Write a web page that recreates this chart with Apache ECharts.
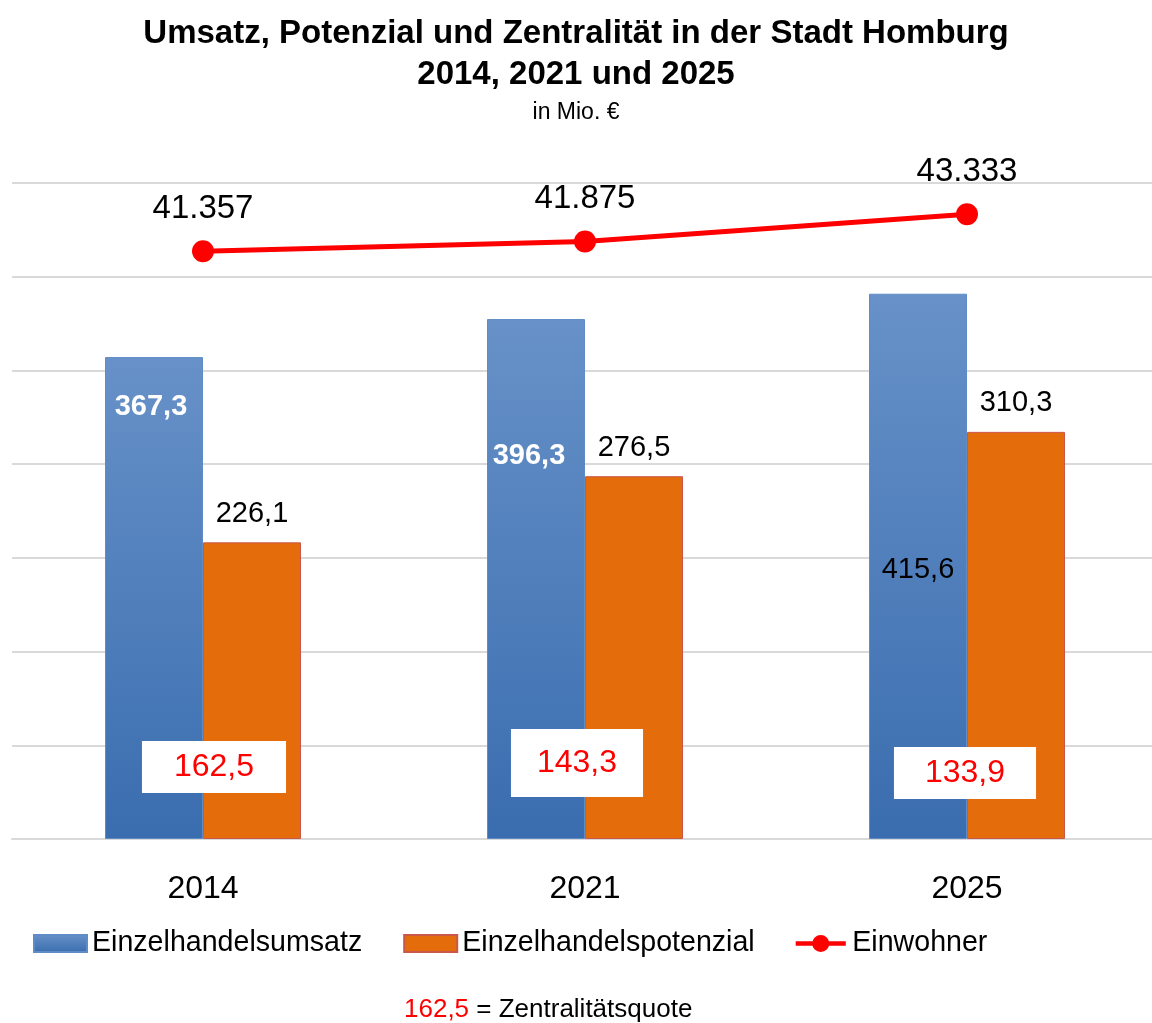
<!DOCTYPE html>
<html><head><meta charset="utf-8">
<script src="https://cdn.jsdelivr.net/npm/echarts@6/dist/echarts.min.js"></script>
<style>html,body{margin:0;padding:0;background:#fff}#c{width:1152px;height:1023px}</style>
</head><body><div id="c"></div>
<script>
// ---- data ----
const categories = ['2014', '2021', '2025'];
const umsatz = [367.3, 396.3, 415.6];        // Einzelhandelsumsatz (Mio. €)
const potenzial = [226.1, 276.5, 310.3];     // Einzelhandelspotenzial (Mio. €)
const einwohner = [41357, 41875, 43333];     // Einwohner
const zentralitaet = [162.5, 143.3, 133.9];  // Zentralitätsquote

const FONT = 'Liberation Sans';
const fmt1 = v => v.toFixed(1).replace('.', ',');
const fmtInt = v => String(v).replace(/\B(?=(\d{3})+(?!\d))/g, '.');

// label placement styles for the Umsatz bars (per bar)
const umsatzLabelStyle = [
  { distance: 35, offset: [-3, 0], color: '#ffffff', fontWeight: 'bold' },
  { distance: 122, offset: [-7, 0], color: '#ffffff', fontWeight: 'bold' },
  { distance: 262, offset: [0, 0], color: '#000000', fontWeight: 'normal' }
];
// layout of the white Zentralitätsquote boxes (per category)
const quoteLayout = [
  { dx: 11, dy: 72, pad: [10, 32] },
  { dx: -8, dy: 76, pad: [18, 26] },
  { dx: -2, dy: 66, pad: [10, 31] }
];
// legend icon for the line series: thick line with a circle marker
const lineIcon = 'path://M0,6 H56 V11 H0 Z M18.5,8.5 A9.5,9.5 0 1,1 37.5,8.5 A9.5,9.5 0 1,1 18.5,8.5 Z';

const chart = echarts.init(document.getElementById('c'), null, { renderer: 'canvas' });

const option = {
  backgroundColor: '#ffffff',
  animation: false,
  textStyle: { fontFamily: FONT },
  title: [
    {
      text: 'Umsatz, Potenzial und Zentralität in der Stadt Homburg\n2014, 2021 und 2025',
      left: 'center', top: 13, padding: 0,
      textStyle: { fontFamily: FONT, fontSize: 33, fontWeight: 'bold', color: '#000', lineHeight: 41 }
    },
    {
      text: 'in Mio. €',
      left: 'center', top: 100, padding: 0,
      textStyle: { fontFamily: FONT, fontSize: 23, fontWeight: 'normal', color: '#000', lineHeight: 26 }
    },
    {
      text: '{r|' + fmt1(zentralitaet[0]) + '} = Zentralitätsquote',
      left: 404, top: 995, padding: 0,
      textStyle: {
        fontFamily: FONT, fontSize: 26, fontWeight: 'normal', color: '#000', lineHeight: 30,
        rich: { r: { color: '#ff0000', fontFamily: FONT, fontSize: 26, lineHeight: 30 } }
      }
    }
  ],
  legend: {
    data: [
      { name: 'Einzelhandelsumsatz', icon: 'rect' },
      { name: 'Einzelhandelspotenzial', icon: 'rect' },
      { name: 'Einwohner', icon: lineIcon }
    ],
    left: 33, top: 929, padding: 0,
    itemWidth: 53, itemHeight: 17, itemGap: 41,
    textStyle: { fontFamily: FONT, fontSize: 28.6, color: '#000' }
  },
  grid: { left: 12, right: -6, top: 183, bottom: 184, outerBoundsMode: 'none', containLabel: false },
  xAxis: {
    type: 'category',
    data: categories,
    axisTick: { show: false },
    axisLine: { lineStyle: { color: '#d9d9d9', width: 2 } },
    axisLabel: { fontFamily: FONT, fontSize: 32, color: '#000', margin: 34 }
  },
  yAxis: [
    { type: 'value', min: 0, max: 500, show: false, splitLine: { show: false } },
    {
      type: 'value', min: 10000, max: 45000, interval: 5000,
      axisLabel: { show: false }, axisLine: { show: false }, axisTick: { show: false },
      splitLine: { show: true, lineStyle: { color: '#d9d9d9', width: 2 } }
    }
  ],
  series: [
    {
      name: 'Einzelhandelsumsatz',
      type: 'bar',
      yAxisIndex: 0,
      barWidth: 98,
      barGap: '0%',
      itemStyle: {
        color: new echarts.graphic.LinearGradient(0, 0, 0, 1, [
          { offset: 0, color: '#6791c8' },
          { offset: 1, color: '#3a6daf' }
        ]),
        borderColor: '#5f8cc6', borderWidth: 1
      },
      data: umsatz.map((v, i) => ({
        value: v,
        label: {
          show: true, position: 'insideTop',
          distance: umsatzLabelStyle[i].distance,
          offset: umsatzLabelStyle[i].offset,
          color: umsatzLabelStyle[i].color,
          fontWeight: umsatzLabelStyle[i].fontWeight,
          fontFamily: FONT, fontSize: 29,
          formatter: p => fmt1(p.value)
        }
      }))
    },
    {
      name: 'Einzelhandelspotenzial',
      type: 'bar',
      yAxisIndex: 0,
      barWidth: 98,
      barGap: '0%',
      itemStyle: { color: '#e46c0a', borderColor: '#c9574a', borderWidth: 1 },
      label: {
        show: true, position: 'top', distance: 14,
        color: '#000', fontFamily: FONT, fontSize: 29,
        formatter: p => fmt1(p.value)
      },
      data: potenzial
    },
    {
      name: 'Einwohner',
      type: 'line',
      yAxisIndex: 1,
      z: 5,
      symbol: 'circle',
      symbolSize: 22,
      lineStyle: { color: '#ff0000', width: 5 },
      itemStyle: { color: '#ff0000' },
      label: {
        show: true, position: 'top', distance: 15,
        color: '#000', fontFamily: FONT, fontSize: 33,
        formatter: p => fmtInt(p.value)
      },
      data: einwohner
    },
    {
      name: 'Zentralitätsquote',
      type: 'custom',
      yAxisIndex: 0,
      z: 10,
      data: zentralitaet.map((v, i) => [i, v]),
      encode: { x: 0, y: 1 },
      renderItem: (params, api) => {
        const i = params.dataIndex;
        const base = api.coord([api.value(0), 0]);
        const L = quoteLayout[i];
        return {
          type: 'text',
          x: base[0] + L.dx,
          y: base[1] - L.dy,
          style: {
            text: fmt1(api.value(1)),
            fill: '#ff0000',
            fontFamily: FONT,
            fontSize: 32,
            align: 'center',
            verticalAlign: 'middle',
            backgroundColor: '#ffffff',
            padding: L.pad
          }
        };
      }
    }
  ]
};

chart.setOption(option);
</script>
</body></html>
